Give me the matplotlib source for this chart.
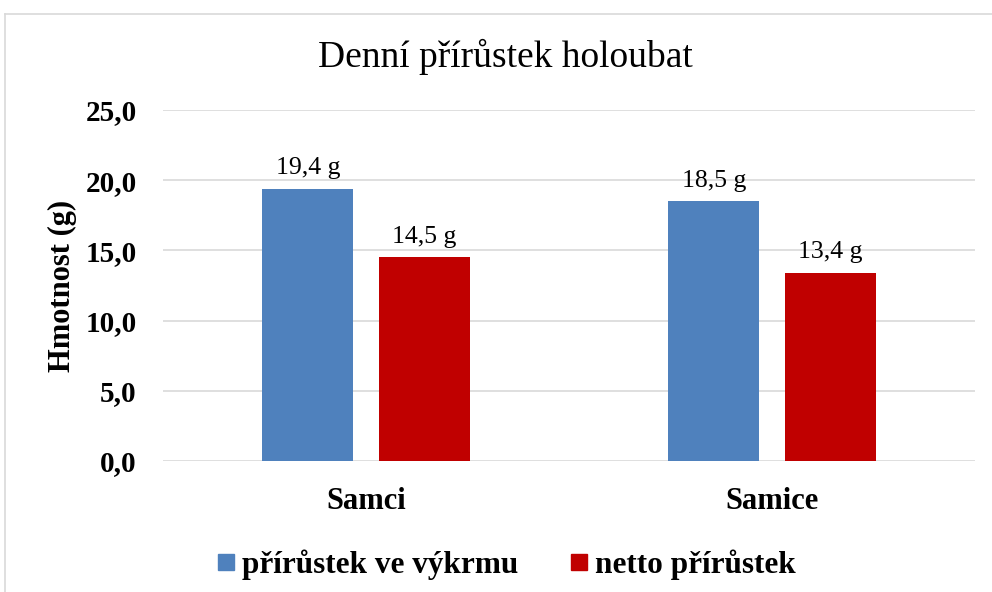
import matplotlib
matplotlib.use("Agg")
import matplotlib.pyplot as plt
from matplotlib.lines import Line2D
import numpy as np

categories = ["Samci", "Samice"]
series_names = ["přírůstek ve výkrmu", "netto přírůstek"]
vykrm = [19.4, 18.5]
netto = [14.5, 13.4]
yticks = [0, 5, 10, 15, 20, 25]
ytick_labels = ["0,0", "5,0", "10,0", "15,0", "20,0", "25,0"]

colors = ["#4F81BD", "#C00000"]
serif = ["Liberation Serif", "DejaVu Serif"]

fig = plt.figure(figsize=(9.92, 5.92), dpi=100)
ax = fig.add_axes([163/992, 1-461/592, (975-163)/992, (461-110)/592])

x = np.arange(len(categories))
w = 0.224
off = 0.143
b1 = ax.bar(x - off, vykrm, w, color=colors[0], zorder=3, label=series_names[0])
b2 = ax.bar(x + off, netto, w, color=colors[1], zorder=3, label=series_names[1])

for bars, vals in ((b1, vykrm), (b2, netto)):
    for r, v in zip(bars, vals):
        ax.annotate(f"{v:.1f}".replace(".", ",") + " g",
                    (r.get_x() + r.get_width()/2, v), xytext=(0, 7),
                    textcoords="offset points", ha="center", va="bottom",
                    family=serif, fontsize=18.5, color="black")

ax.set_xlim(-0.5, 1.5)
ax.set_ylim(0, 25)
ax.set_yticks(yticks)
ax.set_yticklabels(ytick_labels, family=serif, fontsize=21, fontweight="bold")
ax.set_xticks(x)
ax.set_xticklabels(categories, family=serif, fontsize=22, fontweight="bold")
ax.tick_params(axis="both", length=0)
ax.tick_params(axis="y", pad=19)
ax.tick_params(axis="x", pad=19)
ax.grid(axis="y", color="#D9D9D9", linewidth=1.2, zorder=0)
for s in ax.spines.values():
    s.set_visible(False)

ax.set_ylabel("Hmotnost (g)", family=serif, fontsize=22, fontweight="bold", labelpad=6)
fig.text(0.5095, 1-57/592, "Denní přírůstek holoubat", ha="center", va="center",
         family=serif, fontsize=27)

handles = [Line2D([], [], marker="s", linestyle="none", markersize=12,
                  markerfacecolor=c, markeredgecolor=c) for c in colors]
fig.legend(handles, series_names, loc="center", bbox_to_anchor=(0.508, 1-565/592),
           ncol=2, frameon=False, handletextpad=0.05, columnspacing=1.5,
           handlelength=0.9,
           prop={"family": serif, "size": 22.5, "weight": "bold"})

# chart border
fig.add_artist(Line2D([4.5/992, 4.5/992], [0, 1-13.5/592], transform=fig.transFigure,
                      color="#D9D9D9", linewidth=1.2))
fig.add_artist(Line2D([4.5/992, 1.0], [1-13.5/592, 1-13.5/592], transform=fig.transFigure,
                      color="#D9D9D9", linewidth=1.2))

fig.savefig("out.png", dpi=100, facecolor="white")
